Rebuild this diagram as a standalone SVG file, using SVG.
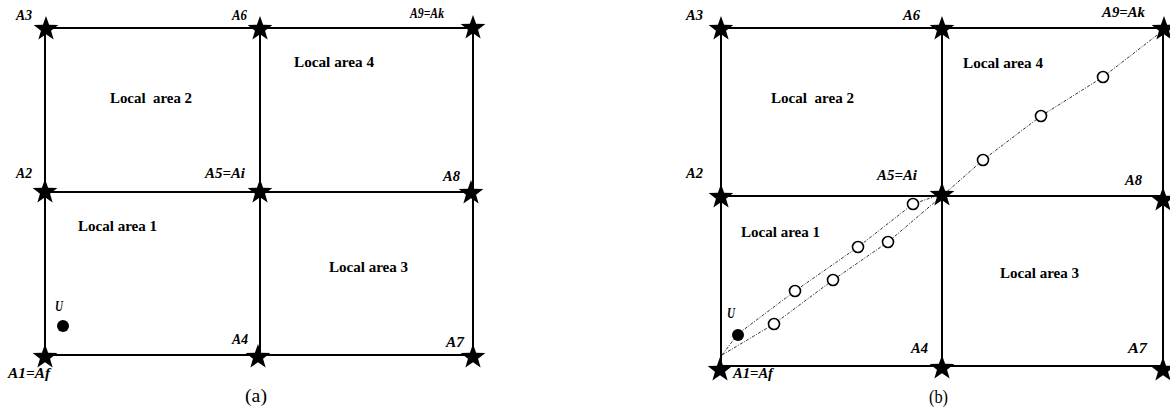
<svg xmlns="http://www.w3.org/2000/svg" width="1170" height="409" viewBox="0 0 1170 409">
<style>
.grid{fill:none;stroke:#000;stroke-width:2}
.traj{fill:none;stroke:#333;stroke-width:1;stroke-dasharray:3 1.5 1 1.5}
.lbl{font-family:'Liberation Serif','Times New Roman',serif;font-weight:bold;font-style:italic;font-size:14px;fill:#000}
.area{font-family:'Liberation Serif','Times New Roman',serif;font-weight:bold;font-size:14.5px;fill:#000}
.cap{font-family:'Liberation Serif','Times New Roman',serif;font-size:18px;fill:#000}
.pt{fill:#fff;stroke:#000;stroke-width:1.6}
.u{fill:#000}
</style>
<defs>
<path id="star" d="M0,-13 L3.12,-4.29 L12.36,-4.02 L5.04,1.64 L7.64,10.52 L0,5.3 L-7.64,10.52 L-5.04,1.64 L-12.36,-4.02 L-3.12,-4.29 Z" fill="#000"/>
</defs>
<rect width="1170" height="409" fill="#fff"/>

<g id="connectors">
  <rect class="grid" x="45" y="28" width="428" height="327"/>
  <line class="grid" x1="260" y1="28" x2="260" y2="355"/>
  <line class="grid" x1="45" y1="192" x2="473" y2="192"/>
  <rect class="grid" x="721" y="28" width="442" height="338"/>
  <line class="grid" x1="942" y1="28" x2="942" y2="366"/>
  <line class="grid" x1="721" y1="196" x2="1163" y2="196"/>
  <polyline class="traj" points="722,355 738,334 795,291 858,247 913,204 942,194"/>
  <polyline class="traj" points="722,355 774,324 833,280 888,242 942,196"/>
  <polyline class="traj" points="942,196 983,160 1041,116 1103,77 1165,29"/>
</g>

<g id="a-A1"><use href="#star" x="45" y="357"/><text class="lbl" x="8" y="378" textLength="42" lengthAdjust="spacingAndGlyphs">A1=Af</text></g>
<g id="a-A2"><use href="#star" x="45" y="192"/><text class="lbl" x="16" y="178" textLength="16" lengthAdjust="spacingAndGlyphs">A2</text></g>
<g id="a-A3"><use href="#star" x="46" y="29"/><text class="lbl" x="16" y="20" textLength="16" lengthAdjust="spacingAndGlyphs">A3</text></g>
<g id="a-A4"><use href="#star" x="258" y="357"/><text class="lbl" x="232" y="344" textLength="16" lengthAdjust="spacingAndGlyphs">A4</text></g>
<g id="a-A5"><use href="#star" x="260" y="192"/><text class="lbl" x="205" y="178" textLength="40" lengthAdjust="spacingAndGlyphs">A5=Ai</text></g>
<g id="a-A6"><use href="#star" x="260" y="29"/><text class="lbl" x="232" y="20" textLength="15" lengthAdjust="spacingAndGlyphs">A6</text></g>
<g id="a-A7"><use href="#star" x="473" y="357"/><text class="lbl" x="446" y="347" textLength="18" lengthAdjust="spacingAndGlyphs">A7</text></g>
<g id="a-A8"><use href="#star" x="471" y="193"/><text class="lbl" x="443" y="181" textLength="17" lengthAdjust="spacingAndGlyphs">A8</text></g>
<g id="a-A9"><use href="#star" x="473" y="28"/><text class="lbl" x="410" y="18" textLength="34" lengthAdjust="spacingAndGlyphs">A9=Ak</text></g>
<g id="a-area1"><text class="area" x="78" y="231" textLength="79" lengthAdjust="spacingAndGlyphs">Local area 1</text></g>
<g id="a-area2"><text class="area" x="110" y="103" textLength="82" lengthAdjust="spacingAndGlyphs" xml:space="preserve">Local  area 2</text></g>
<g id="a-area3"><text class="area" x="329" y="272" textLength="79" lengthAdjust="spacingAndGlyphs">Local area 3</text></g>
<g id="a-area4"><text class="area" x="294" y="67" textLength="80" lengthAdjust="spacingAndGlyphs">Local area 4</text></g>
<g id="a-U"><circle class="u" cx="63" cy="326" r="6"/><text class="lbl" x="55" y="311" textLength="8" lengthAdjust="spacingAndGlyphs">U</text></g>
<g id="a-caption"><text class="cap" x="245" y="402" textLength="22" lengthAdjust="spacingAndGlyphs">(a)</text></g>

<g id="b-A1"><use href="#star" x="720" y="370"/><text class="lbl" x="733" y="378" textLength="40" lengthAdjust="spacingAndGlyphs">A1=Af</text></g>
<g id="b-A2"><use href="#star" x="721" y="197"/><text class="lbl" x="686" y="178" textLength="17" lengthAdjust="spacingAndGlyphs">A2</text></g>
<g id="b-A3"><use href="#star" x="721" y="29"/><text class="lbl" x="686" y="20" textLength="17" lengthAdjust="spacingAndGlyphs">A3</text></g>
<g id="b-A4"><use href="#star" x="942" y="368"/><text class="lbl" x="911" y="353" textLength="17" lengthAdjust="spacingAndGlyphs">A4</text></g>
<g id="b-A5"><use href="#star" x="942" y="195"/><text class="lbl" x="877" y="180" textLength="40" lengthAdjust="spacingAndGlyphs">A5=Ai</text></g>
<g id="b-A6"><use href="#star" x="942" y="29"/><text class="lbl" x="903" y="20" textLength="17" lengthAdjust="spacingAndGlyphs">A6</text></g>
<g id="b-A7"><use href="#star" x="1163" y="370"/><text class="lbl" x="1128" y="353" textLength="19" lengthAdjust="spacingAndGlyphs">A7</text></g>
<g id="b-A8"><use href="#star" x="1163" y="200"/><text class="lbl" x="1125" y="185" textLength="17" lengthAdjust="spacingAndGlyphs">A8</text></g>
<g id="b-A9"><use href="#star" x="1164" y="29"/><text class="lbl" x="1102" y="17" textLength="43" lengthAdjust="spacingAndGlyphs">A9=Ak</text></g>
<g id="b-area1"><text class="area" x="741" y="237" textLength="79" lengthAdjust="spacingAndGlyphs">Local area 1</text></g>
<g id="b-area2"><text class="area" x="771" y="103" textLength="83" lengthAdjust="spacingAndGlyphs" xml:space="preserve">Local  area 2</text></g>
<g id="b-area3"><text class="area" x="1000" y="278" textLength="79" lengthAdjust="spacingAndGlyphs">Local area 3</text></g>
<g id="b-area4"><text class="area" x="963" y="68" textLength="80" lengthAdjust="spacingAndGlyphs">Local area 4</text></g>
<g id="b-U"><circle class="u" cx="738" cy="335" r="6"/><text class="lbl" x="727" y="318" textLength="8" lengthAdjust="spacingAndGlyphs">U</text></g>
<g id="b-points">
  <circle class="pt" cx="774" cy="324" r="5.5"/>
  <circle class="pt" cx="795" cy="291" r="5.5"/>
  <circle class="pt" cx="833" cy="280" r="5.5"/>
  <circle class="pt" cx="858" cy="247" r="5.5"/>
  <circle class="pt" cx="888" cy="242" r="5.5"/>
  <circle class="pt" cx="913" cy="204" r="5.5"/>
  <circle class="pt" cx="983" cy="160" r="5.5"/>
  <circle class="pt" cx="1041" cy="116" r="5.5"/>
  <circle class="pt" cx="1103" cy="77" r="5.5"/>
</g>
<g id="b-caption"><text class="cap" x="929" y="403" textLength="19" lengthAdjust="spacingAndGlyphs">(b)</text></g>
</svg>
